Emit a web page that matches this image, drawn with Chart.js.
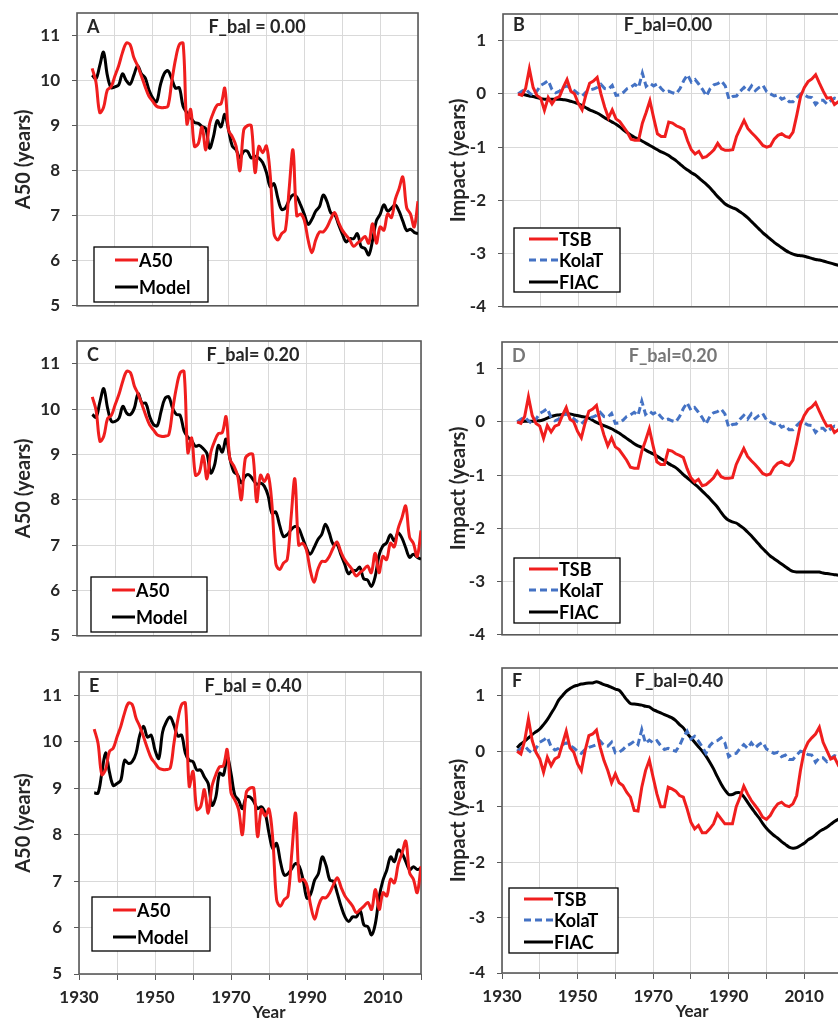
<!DOCTYPE html>
<html>
<head>
<meta charset="utf-8">
<script src="https://cdn.jsdelivr.net/npm/chart.js@4.4.1/dist/chart.umd.min.js"></script>
<style>
  html, body { margin: 0; padding: 0; background: #fff; overflow: hidden; width: 838px; height: 1021px; }
  canvas { position: absolute; }
</style>
</head>
<body>
<canvas id="cA"></canvas>
<canvas id="cB"></canvas>
<canvas id="cC"></canvas>
<canvas id="cD"></canvas>
<canvas id="cE"></canvas>
<canvas id="cF"></canvas>
<script>
/* ════════════════════════════════════════════════════════ */
/* A50 E IMPACTOS (TSB / KolaT / FIAC) - PAINÉIS A a F      */
/* ════════════════════════════════════════════════════════ */

// Anos (eixo x) e marcas
const anos = [
  1934, 1935, 1936, 1937, 1938, 1939, 1940, 1941, 1942, 1943,
  1944, 1945, 1946, 1947, 1948, 1949, 1950, 1951, 1952, 1953,
  1954, 1955, 1956, 1957, 1958, 1959, 1960, 1961, 1962, 1963,
  1964, 1965, 1966, 1967, 1968, 1969, 1970, 1971, 1972, 1973,
  1974, 1975, 1976, 1977, 1978, 1979, 1980, 1981, 1982, 1983,
  1984, 1985, 1986, 1987, 1988, 1989, 1990, 1991, 1992, 1993,
  1994, 1995, 1996, 1997, 1998, 1999, 2000, 2001, 2002, 2003,
  2004, 2005, 2006, 2007, 2008, 2009, 2010, 2011, 2012, 2013,
  2014, 2015, 2016, 2017, 2018, 2019, 2020
];
const gradeAnos = [1930, 1940, 1950, 1960, 1970, 1980, 1990, 2000, 2010, 2020];
const rotulosAno = [1930, 1950, 1970, 1990, 2010];
const ticksA50 = [5, 6, 7, 8, 9, 10, 11];
const ticksImpacto = [-4, -3, -2, -1, 0, 1];

// A50 observado (igual nos três painéis da esquerda)
const a50 = [
  10.27, 9.97, 9.29, 9.40, 9.79, 9.86, 10.10, 10.33, 10.62, 10.83,
  10.80, 10.51, 10.33, 10.10, 9.86, 9.65, 9.54, 9.43, 9.40, 9.40,
  9.43, 9.97, 10.47, 10.80, 10.83, 9.04, 9.36, 8.54, 8.60, 8.97,
  8.46, 9.04, 9.29, 9.46, 9.48, 9.83, 8.90, 8.75, 8.54, 8.00,
  8.90, 9.00, 9.00, 7.96, 8.54, 8.40, 8.55, 7.90, 6.60, 6.46,
  6.60, 6.68, 7.60, 8.46, 7.00, 7.04, 6.90, 6.46, 6.18, 6.46,
  6.64, 6.64, 6.75, 6.93, 7.07, 6.86, 6.68, 6.57, 6.46, 6.32,
  6.39, 6.46, 6.54, 6.39, 6.82, 6.39, 6.75, 6.68, 7.04, 6.96,
  7.36, 7.60, 7.86, 7.18, 7.04, 6.75, 7.32
];

// Modelo para F_bal = 0.00 / 0.20 / 0.40
const modeloA = [
  10.12, 10.04, 10.33, 10.63, 10.12, 9.84, 9.86, 9.90, 10.15, 10.00,
  9.92, 10.12, 10.33, 10.15, 10.06, 9.79, 9.61, 9.53, 9.90, 10.15,
  10.22, 10.04, 9.83, 9.84, 9.43, 9.29, 9.18, 9.07, 9.05, 8.98,
  8.93, 8.50, 8.75, 9.11, 8.97, 9.25, 8.90, 8.54, 8.46, 8.28,
  8.43, 8.43, 8.28, 8.32, 8.28, 8.18, 7.96, 7.64, 7.71, 7.39,
  7.14, 7.17, 7.35, 7.46, 7.42, 7.24, 7.03, 6.81, 6.92, 7.10,
  7.20, 7.46, 7.31, 7.06, 7.03, 6.81, 6.60, 6.42, 6.49, 6.49,
  6.60, 6.31, 6.27, 6.13, 6.45, 6.88, 7.03, 7.24, 7.10, 7.17,
  7.24, 7.10, 6.88, 6.67, 6.70, 6.63, 6.60
];
const modeloC = [
  9.88, 9.82, 10.16, 10.45, 10.02, 9.73, 9.73, 9.80, 10.06, 9.91,
  9.88, 10.02, 10.34, 10.13, 10.13, 9.84, 9.66, 9.63, 9.95, 10.23,
  10.27, 10.02, 9.88, 9.86, 9.52, 9.38, 9.30, 9.18, 9.20, 9.13,
  9.02, 8.59, 8.77, 9.20, 9.05, 9.34, 8.91, 8.62, 8.55, 8.37,
  8.52, 8.55, 8.45, 8.34, 8.37, 8.30, 8.09, 7.70, 7.73, 7.44,
  7.19, 7.23, 7.34, 7.41, 7.37, 7.16, 6.94, 6.80, 6.94, 7.12,
  7.23, 7.46, 7.27, 7.02, 7.02, 6.80, 6.59, 6.37, 6.44, 6.44,
  6.51, 6.26, 6.23, 6.09, 6.30, 6.77, 6.98, 7.05, 7.23, 7.09,
  7.27, 7.16, 6.94, 6.73, 6.80, 6.73, 6.69
];
const modeloE = [
  8.90, 8.89, 9.32, 9.76, 9.35, 9.06, 9.10, 9.17, 9.60, 9.53,
  9.57, 9.75, 10.14, 10.33, 10.10, 10.14, 9.82, 9.64, 10.21, 10.43,
  10.53, 10.35, 10.12, 10.14, 9.75, 9.60, 9.57, 9.39, 9.39, 9.24,
  9.10, 8.63, 8.81, 9.32, 9.28, 9.67, 9.32, 8.85, 8.74, 8.56,
  8.81, 8.81, 8.71, 8.56, 8.60, 8.46, 8.03, 7.70, 7.81, 7.42,
  7.13, 7.16, 7.27, 7.38, 7.31, 7.02, 6.63, 6.73, 7.02, 7.16,
  7.52, 7.34, 7.02, 6.99, 6.73, 6.45, 6.23, 6.13, 6.23, 6.23,
  6.36, 6.05, 6.02, 5.84, 6.09, 6.66, 7.02, 7.24, 7.52, 7.42,
  7.67, 7.60, 7.42, 7.24, 7.31, 7.25, 7.28
];

// Impactos (anos) - TSB, KolaT, FIAC
const tsb = [
  0.00, -0.03, 0.10, 0.47, 0.12, -0.03, -0.08, -0.31, -0.07, -0.19,
  -0.08, -0.05, 0.12, 0.27, 0.05, 0.00, -0.18, -0.30, -0.02, 0.20,
  0.24, 0.31, 0.00, -0.25, -0.45, -0.30, -0.47, -0.52, -0.62, -0.72,
  -0.85, -0.87, -0.87, -0.55, -0.35, -0.13, -0.45, -0.75, -0.80, -0.80,
  -0.53, -0.55, -0.60, -0.63, -0.67, -0.88, -1.05, -1.13, -1.08, -1.20,
  -1.18, -1.12, -1.05, -0.93, -1.03, -1.06, -1.06, -1.05, -0.80, -0.65,
  -0.50, -0.65, -0.73, -0.80, -0.88, -0.97, -1.00, -0.98, -0.85, -0.78,
  -0.75, -0.80, -0.82, -0.72, -0.40, -0.05, 0.12, 0.23, 0.28, 0.36,
  0.20, 0.05, -0.08, -0.07, -0.20, -0.15, -0.20
];
const tsbF = [
  0.00, -0.05, 0.19, 0.58, 0.19, -0.02, -0.14, -0.38, -0.11, -0.26,
  -0.14, -0.10, 0.13, 0.36, 0.06, -0.02, -0.23, -0.35, 0.01, 0.28,
  0.31, 0.38, 0.07, -0.17, -0.35, -0.57, -0.41, -0.57, -0.62, -0.74,
  -0.83, -1.07, -1.08, -0.65, -0.35, -0.16, -0.47, -0.77, -1.00, -1.00,
  -0.65, -0.68, -0.72, -0.80, -0.83, -1.04, -1.28, -1.40, -1.34, -1.47,
  -1.47, -1.40, -1.31, -1.13, -1.22, -1.31, -1.31, -1.31, -1.00, -0.83,
  -0.63, -0.77, -0.89, -0.98, -1.07, -1.19, -1.23, -1.16, -1.04, -0.95,
  -0.92, -0.98, -1.00, -0.95, -0.80, -0.35, 0.01, 0.16, 0.24, 0.31,
  0.43, 0.16, 0.01, -0.14, -0.11, -0.25, -0.20
];
const kolaT = [
  0.00, 0.05, 0.09, 0.02, -0.04, 0.05, 0.16, 0.20, 0.25, 0.08,
  0.02, 0.05, 0.12, 0.15, 0.10, 0.06, 0.00, -0.04, 0.03, 0.07,
  0.09, 0.12, 0.18, 0.10, 0.09, 0.16, -0.03, -0.02, 0.03, 0.10,
  0.13, 0.18, 0.12, 0.39, 0.14, 0.20, 0.15, 0.19, 0.10, 0.03,
  0.05, 0.02, 0.00, 0.10, 0.25, 0.36, 0.22, 0.27, 0.18, 0.08,
  -0.04, 0.10, 0.17, 0.19, 0.24, 0.15, -0.10, -0.05, -0.04, 0.05,
  0.12, 0.05, 0.15, 0.06, 0.12, 0.16, 0.04, 0.00, -0.04, -0.02,
  -0.10, -0.07, -0.15, -0.15, -0.07, 0.00, -0.02, -0.06, -0.07, -0.20,
  -0.12, -0.12, -0.19, -0.13, -0.08, -0.10, -0.12
];
const fiacB = [
  0.00, -0.01, -0.02, -0.04, -0.05, -0.07, -0.09, -0.10, -0.10, -0.10,
  -0.10, -0.10, -0.11, -0.12, -0.14, -0.16, -0.19, -0.22, -0.26, -0.30,
  -0.33, -0.36, -0.40, -0.45, -0.49, -0.53, -0.57, -0.62, -0.68, -0.73,
  -0.78, -0.82, -0.85, -0.89, -0.93, -0.97, -1.01, -1.05, -1.09, -1.12,
  -1.16, -1.21, -1.26, -1.32, -1.38, -1.43, -1.48, -1.52, -1.58, -1.64,
  -1.70, -1.77, -1.85, -1.93, -2.00, -2.07, -2.11, -2.14, -2.17, -2.22,
  -2.27, -2.33, -2.40, -2.47, -2.54, -2.61, -2.67, -2.73, -2.79, -2.84,
  -2.89, -2.94, -2.98, -3.01, -3.03, -3.04, -3.05, -3.07, -3.09, -3.11,
  -3.12, -3.14, -3.16, -3.18, -3.20, -3.22, -3.24
];
const fiacD = [
  0.00, 0.00, 0.01, 0.01, 0.01, 0.02, 0.02, 0.04, 0.07, 0.10,
  0.12, 0.13, 0.14, 0.15, 0.15, 0.13, 0.12, 0.10, 0.09, 0.07,
  0.03, -0.01, -0.04, -0.07, -0.10, -0.13, -0.17, -0.21, -0.26, -0.31,
  -0.36, -0.41, -0.45, -0.48, -0.53, -0.57, -0.60, -0.64, -0.69, -0.73,
  -0.78, -0.82, -0.86, -0.92, -0.99, -1.05, -1.11, -1.17, -1.23, -1.30,
  -1.37, -1.44, -1.52, -1.60, -1.70, -1.79, -1.85, -1.88, -1.90, -1.95,
  -2.00, -2.07, -2.14, -2.22, -2.30, -2.38, -2.45, -2.52, -2.57, -2.62,
  -2.67, -2.72, -2.77, -2.81, -2.82, -2.82, -2.82, -2.82, -2.82, -2.82,
  -2.82, -2.84, -2.85, -2.86, -2.87, -2.88, -2.88
];
const fiacF = [
  0.06, 0.13, 0.18, 0.24, 0.30, 0.35, 0.40, 0.48, 0.57, 0.68,
  0.79, 0.92, 1.00, 1.08, 1.13, 1.17, 1.19, 1.21, 1.22, 1.23,
  1.23, 1.25, 1.23, 1.20, 1.18, 1.15, 1.12, 1.10, 1.02, 0.93,
  0.86, 0.85, 0.84, 0.83, 0.81, 0.80, 0.75, 0.72, 0.69, 0.66,
  0.63, 0.60, 0.55, 0.48, 0.42, 0.32, 0.24, 0.16, 0.08, 0.00,
  -0.09, -0.20, -0.32, -0.46, -0.59, -0.70, -0.78, -0.78, -0.75, -0.75,
  -0.82, -0.92, -1.02, -1.11, -1.20, -1.30, -1.39, -1.46, -1.52, -1.57,
  -1.63, -1.68, -1.73, -1.75, -1.74, -1.70, -1.66, -1.60, -1.56, -1.51,
  -1.45, -1.41, -1.37, -1.32, -1.27, -1.23, -1.20
];

const VERMELHO = '#f01e1e';
const PRETO = '#000000';
const AZUL = '#4472c4';
const FONTE = 'Lato, "Open Sans", sans-serif';

Chart.defaults.font.family = FONTE;
Chart.defaults.font.weight = 'bold';
Chart.defaults.color = '#262626';

// Configuração de cada painel (área do gráfico em px da página)
const paineis = [
  { id: 'cA', letra: 'A', titulo: 'F_bal = 0.00', tituloDx: 180, tituloDy: 14, corTexto: '#262626',
    area: { l: 77, t: 13, r: 418, b: 314 }, cx: 0, cw: 428, rodape: false, impacto: false,
    series: [{ label: 'A50', data: a50, cor: VERMELHO }, { label: 'Model', data: modeloA, cor: PRETO }],
    legenda: { dx: 17, dy: 234, w: 114, h: 55, x1: 21 } },
  { id: 'cC', letra: 'C', titulo: 'F_bal= 0.20', tituloDx: 176, tituloDy: 14, corTexto: '#262626',
    area: { l: 77, t: 341, r: 421, b: 644 }, cx: 0, cw: 428, rodape: false, impacto: false,
    series: [{ label: 'A50', data: a50, cor: VERMELHO }, { label: 'Model', data: modeloC, cor: PRETO }],
    legenda: { dx: 14, dy: 236, w: 116, h: 55, x1: 21 } },
  { id: 'cE', letra: 'E', titulo: 'F_bal = 0.40', tituloDx: 174, tituloDy: 14, corTexto: '#262626',
    area: { l: 79, t: 672, r: 423, b: 974 }, cx: 0, cw: 428, rodape: true, impacto: false,
    series: [{ label: 'A50', data: a50, cor: VERMELHO }, { label: 'Model', data: modeloE, cor: PRETO }],
    legenda: { dx: 13, dy: 225, w: 118, h: 54, x1: 21 } },
  { id: 'cB', letra: 'B', titulo: 'F_bal=0.00', tituloDx: 165, tituloDy: 11, corTexto: '#262626',
    area: { l: 503, t: 14, r: 842, b: 315 }, cx: 430, cw: 430, rodape: false, impacto: true,
    series: [{ label: 'TSB', data: tsb, cor: VERMELHO }, { label: 'KolaT', data: kolaT, cor: AZUL, dash: [7, 4] },
             { label: 'FIAC', data: fiacB, cor: PRETO, suave: true }],
    legenda: { dx: 11, dy: 214, w: 106, h: 64, x1: 15 } },
  { id: 'cD', letra: 'D', titulo: 'F_bal=0.20', tituloDx: 171, tituloDy: 14, corTexto: '#777777',
    area: { l: 502, t: 342, r: 842, b: 643 }, cx: 430, cw: 430, rodape: false, impacto: true,
    series: [{ label: 'TSB', data: tsb, cor: VERMELHO }, { label: 'KolaT', data: kolaT, cor: AZUL, dash: [7, 4] },
             { label: 'FIAC', data: fiacD, cor: PRETO, suave: true }],
    legenda: { dx: 12, dy: 216, w: 106, h: 65, x1: 15 } },
  { id: 'cF', letra: 'F', titulo: 'F_bal=0.40', tituloDx: 177, tituloDy: 13, corTexto: '#262626',
    area: { l: 502, t: 668, r: 842, b: 973 }, cx: 430, cw: 430, rodape: true, impacto: true,
    series: [{ label: 'TSB', data: tsbF, cor: VERMELHO }, { label: 'KolaT', data: kolaT, cor: AZUL, dash: [7, 4] },
             { label: 'FIAC', data: fiacF, cor: PRETO, suave: true }],
    legenda: { dx: 7, dy: 220, w: 109, h: 65, x1: 15 } }
];

// Moldura, letras, título interno, legenda e "Year"
function pluginPainel(p) {
  return {
    id: 'painel_' + p.id,
    beforeDatasetsDraw(chart) {
      const a = chart.chartArea;
      const ctx = chart.ctx;
      ctx.save();
      ctx.strokeStyle = '#595959';
      ctx.lineWidth = 1.6;
      ctx.strokeRect(a.left, a.top, a.right - a.left, a.bottom - a.top);
      ctx.restore();
    },
    afterDatasetsDraw(chart) {
      const a = chart.chartArea;
      const ctx = chart.ctx;
      ctx.save();
      ctx.fillStyle = p.corTexto;
      ctx.font = 'bold 18px ' + FONTE;
      ctx.textBaseline = 'middle';
      ctx.textAlign = 'left';
      ctx.fillText(p.letra, a.left + 10, a.top + p.tituloDy);
      ctx.textAlign = 'center';
      ctx.fillText(p.titulo, a.left + p.tituloDx, a.top + p.tituloDy);

      // legenda com caixa
      const lg = p.legenda;
      const x0 = a.left + lg.dx, y0 = a.top + lg.dy;
      ctx.fillStyle = '#ffffff';
      ctx.fillRect(x0, y0, lg.w, lg.h);
      ctx.strokeStyle = '#000000';
      ctx.lineWidth = 1.3;
      ctx.strokeRect(x0, y0, lg.w, lg.h);
      const passos = p.series.length === 2 ? [13, 40] : [11, 32, 54];
      p.series.forEach((s, i) => {
        const y = y0 + passos[i];
        ctx.beginPath();
        ctx.setLineDash(s.dash || []);
        ctx.strokeStyle = s.cor;
        ctx.lineWidth = 3;
        ctx.moveTo(x0 + lg.x1, y);
        ctx.lineTo(x0 + 44, y);
        ctx.stroke();
        ctx.setLineDash([]);
        ctx.fillStyle = '#000000';
        ctx.font = 'bold 18px ' + FONTE;
        ctx.textAlign = 'left';
        ctx.fillText(s.label, x0 + 45, y + 1);
      });

      if (p.rodape) {
        ctx.fillStyle = '#262626';
        ctx.font = 'bold 17px ' + FONTE;
        ctx.textAlign = 'center';
        ctx.fillText('Year', a.left + 190, a.bottom + 39);
      }
      ctx.restore();
    }
  };
}

function criarPainel(p) {
  const canvas = document.getElementById(p.id);
  const cy = p.area.t - 24;
  const ch = p.rodape ? 1021 - cy : p.area.b + 14 - cy;
  canvas.width = p.cw;
  canvas.height = ch;
  canvas.style.left = p.cx + 'px';
  canvas.style.top = cy + 'px';

  const alturaX = p.rodape ? 1021 - p.area.b : 0;

  return new Chart(canvas.getContext('2d'), {
    type: 'line',
    data: {
      datasets: p.series.map(s => ({
        label: s.label,
        data: anos.map((x, i) => ({ x: x, y: s.data[i] })),
        borderColor: s.cor,
        borderWidth: 3,
        borderDash: s.dash || [],
        pointRadius: 0,
        fill: false,
        tension: p.impacto ? (s.suave ? 0.3 : 0) : 0.35
      }))
    },
    options: {
      responsive: false,
      animation: false,
      devicePixelRatio: 1,
      layout: {
        padding: { top: 24, left: 0, right: p.cx + p.cw - p.area.r, bottom: p.rodape ? 0 : 14 }
      },
      plugins: { legend: { display: false }, tooltip: { enabled: false } },
      scales: {
        x: {
          type: 'linear',
          min: 1930,
          max: 2020,
          afterBuildTicks: s => { s.ticks = gradeAnos.map(v => ({ value: v })); },
          afterFit: s => { s.height = alturaX; },
          border: { display: false },
          grid: { color: '#d9d9d9', lineWidth: 1, drawTicks: p.rodape, tickLength: 6, tickColor: '#595959' },
          ticks: {
            display: p.rodape,
            maxRotation: 0,
            autoSkip: false,
            padding: 7,
            color: '#262626',
            font: { size: 17, weight: 'bold' },
            callback: v => rotulosAno.includes(v) ? String(v) : ''
          }
        },
        y: {
          min: p.impacto ? -4 : 5,
          max: p.impacto ? 1.5 : 11.5,
          afterBuildTicks: s => { s.ticks = (p.impacto ? ticksImpacto : ticksA50).map(v => ({ value: v })); },
          afterFit: s => { s.width = p.area.l - p.cx; },
          border: { display: false },
          grid: { color: '#d9d9d9', lineWidth: 1, drawTicks: true, tickLength: 5, tickColor: '#595959' },
          ticks: {
            padding: 12,
            color: '#262626',
            font: { size: 17, weight: 'bold' },
            callback: v => String(v)
          },
          title: {
            display: true,
            text: p.impacto ? 'Impact (years)' : 'A50 (years)',
            color: '#262626',
            font: { size: 20, weight: 'bold' },
            padding: { top: p.impacto ? 17 : 12, bottom: 0 }
          }
        }
      }
    },
    plugins: [pluginPainel(p)]
  });
}

paineis.forEach(criarPainel);
console.log('[Painéis] gráficos criados:', paineis.length);
</script>
</body>
</html>
